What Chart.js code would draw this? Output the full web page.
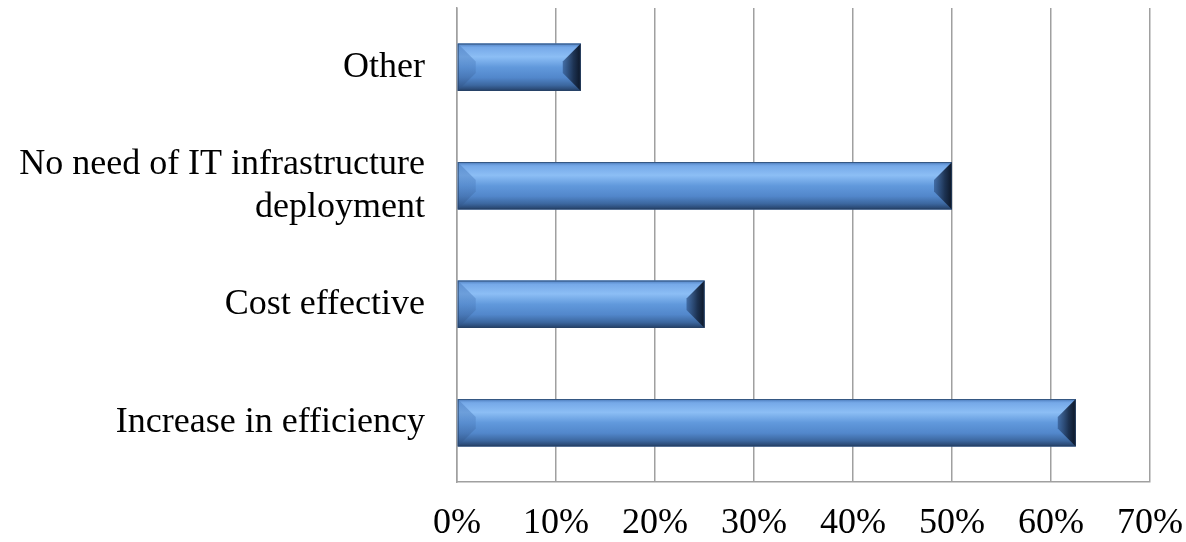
<!DOCTYPE html>
<html>
<head>
<meta charset="utf-8">
<script src="https://cdn.jsdelivr.net/npm/chart.js@4"></script>
<style>
  html, body { margin: 0; padding: 0; background: #fff; }
  #wrap { width: 1186px; height: 542px; }
</style>
</head>
<body>
<div id="wrap"><canvas id="myChart"></canvas></div>
<script>
// Datos del grafico
const categorias = [
    'Other',
    ['No need of IT infrastructure', 'deployment'],
    'Cost effective',
    'Increase in efficiency'
];
const valores = [12.5, 50, 25, 62.5];   // porcentaje
const ejeMax = 70;
const ejePaso = 10;

// Barras con degradado y bisel (se pinta encima de la barra de Chart.js)
const bevelPlugin = {
    id: 'bevel',
    afterDatasetsDraw(chart) {
        const ctx = chart.ctx;
        const meta = chart.getDatasetMeta(0);
        meta.data.forEach(bar => {
            const left = Math.min(bar.base, bar.x);
            const right = Math.max(bar.base, bar.x);
            const top = bar.y - bar.height / 2;
            const bottom = bar.y + bar.height / 2;
            const h = bottom - top;
            const b = Math.min(18, (right - left) / 3, h / 2 - 3);
            ctx.save();
            // cara principal
            let g = ctx.createLinearGradient(0, top, 0, bottom);
            g.addColorStop(0, '#4f7fc0');
            g.addColorStop(0.08, '#76a9e8');
            g.addColorStop(0.28, '#8cbef5');
            g.addColorStop(0.5, '#6199dc');
            g.addColorStop(0.72, '#5287cb');
            g.addColorStop(0.88, '#3c679f');
            g.addColorStop(1, '#243f66');
            ctx.fillStyle = g;
            ctx.fillRect(left, top, right - left, h);
            // extremo izquierdo
            g = ctx.createLinearGradient(0, top, 0, bottom);
            g.addColorStop(0, 'rgba(80,130,195,0.55)');
            g.addColorStop(0.5, 'rgba(80,130,195,0.5)');
            g.addColorStop(1, 'rgba(45,80,130,0.6)');
            ctx.fillStyle = g;
            ctx.beginPath();
            ctx.moveTo(left, top);
            ctx.lineTo(left + b, top + b);
            ctx.lineTo(left + b, bottom - b);
            ctx.lineTo(left, bottom);
            ctx.closePath();
            ctx.fill();
            // extremo derecho
            g = ctx.createLinearGradient(right - b, 0, right, 0);
            g.addColorStop(0, 'rgba(55,95,150,0.8)');
            g.addColorStop(0.6, 'rgba(25,45,75,0.95)');
            g.addColorStop(1, 'rgba(12,22,38,1)');
            ctx.fillStyle = g;
            ctx.beginPath();
            ctx.moveTo(right, top);
            ctx.lineTo(right - b, top + b);
            ctx.lineTo(right - b, bottom - b);
            ctx.lineTo(right, bottom);
            ctx.closePath();
            ctx.fill();
            // contorno
            ctx.strokeStyle = 'rgba(40,65,100,0.7)';
            ctx.lineWidth = 1;
            ctx.strokeRect(left + 0.5, top + 0.5, right - left - 1, h - 1);
            ctx.restore();
        });
    }
};

var canvas = document.getElementById('myChart');
if (canvas) {
    var ctx = canvas.getContext('2d');
    var myChart = new Chart(ctx, {
        type: 'bar',
        data: {
            labels: categorias,
            datasets: [{
                data: valores,
                backgroundColor: '#5b8fd6',
                borderWidth: 0,
                categoryPercentage: 1,
                barPercentage: 0.4
            }]
        },
        options: {
            indexAxis: 'y',
            responsive: true,
            maintainAspectRatio: false,
            animation: false,
            layout: { padding: { top: 8, right: 36, left: 0, bottom: 0 } },
            plugins: {
                legend: { display: false },
                tooltip: { enabled: false }
            },
            scales: {
                x: {
                    min: 0,
                    max: ejeMax,
                    ticks: {
                        stepSize: ejePaso,
                        color: '#000',
                        padding: 20,
                        font: { family: 'Liberation Serif', size: 36 },
                        callback: v => v + '%'
                    },
                    grid: { color: '#a0a0a0', lineWidth: 1.5, drawTicks: false },
                    border: { color: '#a0a0a0', width: 1.5 },
                    afterFit: s => { s.height = 60; s.paddingLeft = 0; s.paddingRight = 0; }
                },
                y: {
                    ticks: {
                        color: '#000',
                        padding: 32,
                        font: { family: 'Liberation Serif', size: 36, lineHeight: 1.2 }
                    },
                    grid: { display: false, drawTicks: false },
                    border: { color: '#a0a0a0', width: 1.5 },
                    afterFit: s => { s.width = 457; s.paddingTop = 0; s.paddingBottom = 0; }
                }
            }
        },
        plugins: [bevelPlugin]
    });
}
</script>
</body>
</html>
